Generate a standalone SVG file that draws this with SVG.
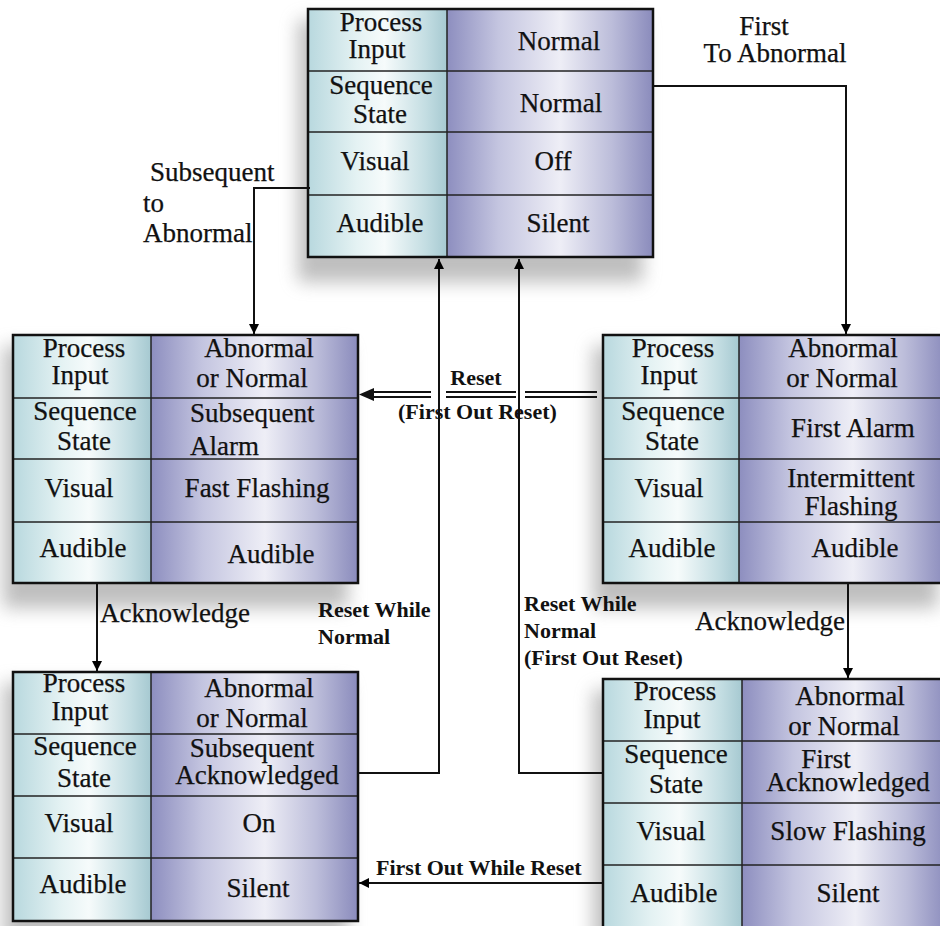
<svg xmlns="http://www.w3.org/2000/svg" width="940" height="926" viewBox="0 0 940 926">
<defs>
<linearGradient id="gl" x1="0" y1="0" x2="1" y2="0">
<stop offset="0" stop-color="#b8d8de"/>
<stop offset="0.35" stop-color="#e4f2f3"/>
<stop offset="0.55" stop-color="#f6fbfb"/>
<stop offset="0.85" stop-color="#c3dde2"/>
<stop offset="1" stop-color="#a6c9d1"/>
</linearGradient>
<linearGradient id="gr" x1="0" y1="0" x2="1" y2="0">
<stop offset="0" stop-color="#8d8ebf"/>
<stop offset="0.25" stop-color="#c4c5e0"/>
<stop offset="0.55" stop-color="#eeeef6"/>
<stop offset="0.8" stop-color="#bcbdda"/>
<stop offset="1" stop-color="#8a8bbc"/>
</linearGradient>
<filter id="sh" x="-20%" y="-20%" width="140%" height="140%">
<feGaussianBlur stdDeviation="9"/>
</filter>
<marker id="ah" viewBox="0 0 10 10" refX="10" refY="5" markerWidth="10" markerHeight="12" markerUnits="userSpaceOnUse" orient="auto">
<path d="M0,0 L10,5 L0,10 z" fill="#000"/>
</marker>
</defs>
<style>
.shadow{fill:#8a8a8a;opacity:0.55;filter:url(#sh)}
.frame{fill:none;stroke:#111;stroke-width:2.5}
.grid{stroke:#222;stroke-width:1.5}
.t{font-family:"Liberation Serif","Times New Roman","DejaVu Serif",serif;font-weight:400;font-size:27px;fill:#111;stroke:#111;stroke-width:0.25}
.c{text-anchor:middle}
.lb{font-family:"Liberation Serif","Times New Roman","DejaVu Serif",serif;font-size:22px;font-weight:700;fill:#111}
.wire{fill:none;stroke:#111;stroke-width:2}
</style>
<rect width="940" height="926" fill="#fff"/>

<g id="node-normal">
<rect class="shadow" x="298" y="20" width="345" height="262"/>
<rect x="308" y="9" width="139" height="248" fill="url(#gl)"/>
<rect x="447" y="9" width="206" height="248" fill="url(#gr)"/>
<line class="grid" x1="308" y1="71" x2="653" y2="71"/>
<line class="grid" x1="308" y1="132" x2="653" y2="132"/>
<line class="grid" x1="308" y1="195" x2="653" y2="195"/>
<line class="grid" x1="447" y1="9" x2="447" y2="257"/>
<rect class="frame" x="308" y="9" width="345" height="248"/>
<text class="t c" x="381" y="31">Process</text>
<text class="t c" x="377" y="58">Input</text>
<text class="t c" x="559" y="50">Normal</text>
<text class="t c" x="381" y="94">Sequence</text>
<text class="t c" x="380" y="123">State</text>
<text class="t c" x="561" y="112">Normal</text>
<text class="t c" x="375" y="170">Visual</text>
<text class="t c" x="553" y="170">Off</text>
<text class="t c" x="380" y="232">Audible</text>
<text class="t c" x="558" y="232">Silent</text>
</g>

<g id="node-subsequent-alarm">
<rect class="shadow" x="3" y="346" width="345" height="262"/>
<rect x="13" y="335" width="138" height="248" fill="url(#gl)"/>
<rect x="151" y="335" width="207" height="248" fill="url(#gr)"/>
<line class="grid" x1="13" y1="398" x2="358" y2="398"/>
<line class="grid" x1="13" y1="459" x2="358" y2="459"/>
<line class="grid" x1="13" y1="522" x2="358" y2="522"/>
<line class="grid" x1="151" y1="335" x2="151" y2="583"/>
<rect class="frame" x="13" y="335" width="345" height="248"/>
<text class="t c" x="84" y="357">Process</text>
<text class="t c" x="80" y="384">Input</text>
<text class="t c" x="259" y="357">Abnormal</text>
<text class="t c" x="252" y="387">or Normal</text>
<text class="t c" x="85" y="420">Sequence</text>
<text class="t c" x="84" y="450">State</text>
<text class="t" x="190" y="422">Subsequent</text>
<text class="t" x="190" y="455">Alarm</text>
<text class="t c" x="79" y="497">Visual</text>
<text class="t c" x="257" y="497">Fast Flashing</text>
<text class="t c" x="83" y="557">Audible</text>
<text class="t c" x="271" y="563">Audible</text>
</g>

<g id="node-first-alarm">
<rect class="shadow" x="593" y="346" width="345" height="262"/>
<rect x="603" y="335" width="136" height="248" fill="url(#gl)"/>
<rect x="739" y="335" width="207" height="248" fill="url(#gr)"/>
<line class="grid" x1="603" y1="398" x2="946" y2="398"/>
<line class="grid" x1="603" y1="459" x2="946" y2="459"/>
<line class="grid" x1="603" y1="522" x2="946" y2="522"/>
<line class="grid" x1="739" y1="335" x2="739" y2="583"/>
<rect class="frame" x="603" y="335" width="343" height="248"/>
<text class="t c" x="673" y="357">Process</text>
<text class="t c" x="669" y="384">Input</text>
<text class="t c" x="843" y="357">Abnormal</text>
<text class="t c" x="842" y="387">or Normal</text>
<text class="t c" x="673" y="420">Sequence</text>
<text class="t c" x="672" y="450">State</text>
<text class="t c" x="853" y="437">First Alarm</text>
<text class="t c" x="669" y="497">Visual</text>
<text class="t c" x="851" y="487">Intermittent</text>
<text class="t c" x="851" y="515">Flashing</text>
<text class="t c" x="672" y="557">Audible</text>
<text class="t c" x="855" y="557">Audible</text>
</g>

<g id="node-subsequent-acknowledged">
<rect class="shadow" x="3" y="683" width="345" height="262"/>
<rect x="13" y="672" width="138" height="249" fill="url(#gl)"/>
<rect x="151" y="672" width="207" height="249" fill="url(#gr)"/>
<line class="grid" x1="13" y1="734" x2="358" y2="734"/>
<line class="grid" x1="13" y1="796" x2="358" y2="796"/>
<line class="grid" x1="13" y1="858" x2="358" y2="858"/>
<line class="grid" x1="151" y1="672" x2="151" y2="921"/>
<rect class="frame" x="13" y="672" width="345" height="249"/>
<text class="t c" x="84" y="692">Process</text>
<text class="t c" x="80" y="720">Input</text>
<text class="t c" x="259" y="697">Abnormal</text>
<text class="t c" x="252" y="727">or Normal</text>
<text class="t c" x="85" y="755">Sequence</text>
<text class="t c" x="84" y="787">State</text>
<text class="t c" x="252" y="757">Subsequent</text>
<text class="t c" x="257" y="784">Acknowledged</text>
<text class="t c" x="79" y="832">Visual</text>
<text class="t c" x="259" y="832">On</text>
<text class="t c" x="83" y="893">Audible</text>
<text class="t c" x="258" y="897">Silent</text>
</g>

<g id="node-first-acknowledged">
<rect class="shadow" x="593" y="690" width="345" height="262"/>
<rect x="603" y="679" width="139" height="260" fill="url(#gl)"/>
<rect x="742" y="679" width="206" height="260" fill="url(#gr)"/>
<line class="grid" x1="603" y1="741" x2="948" y2="741"/>
<line class="grid" x1="603" y1="803" x2="948" y2="803"/>
<line class="grid" x1="603" y1="865" x2="948" y2="865"/>
<line class="grid" x1="742" y1="679" x2="742" y2="939"/>
<rect class="frame" x="603" y="679" width="345" height="260"/>
<text class="t c" x="675" y="700">Process</text>
<text class="t c" x="672" y="728">Input</text>
<text class="t c" x="850" y="705">Abnormal</text>
<text class="t c" x="844" y="735">or Normal</text>
<text class="t c" x="676" y="763">Sequence</text>
<text class="t c" x="676" y="793">State</text>
<text class="t c" x="826" y="768">First</text>
<text class="t c" x="848" y="791">Acknowledged</text>
<text class="t c" x="671" y="840">Visual</text>
<text class="t c" x="848" y="840">Slow Flashing</text>
<text class="t c" x="674" y="902">Audible</text>
<text class="t c" x="848" y="902">Silent</text>
</g>

<g id="connectors">
<path class="wire" d="M310,188 H254 V334" marker-end="url(#ah)"/>
<path class="wire" d="M653,86 H846 V334" marker-end="url(#ah)"/>
<path class="wire" d="M358,773 H439 V259" marker-end="url(#ah)"/>
<path class="wire" d="M603,773 H519 V259" marker-end="url(#ah)"/>
<path class="wire" d="M97,583 V671" marker-end="url(#ah)"/>
<path class="wire" d="M848,583 V678" marker-end="url(#ah)"/>
<path class="wire" d="M603,883 H359" marker-end="url(#ah)"/>
<g stroke="#111" stroke-width="2" fill="none">
<path d="M370,392 H431 M370,397 H431"/>
<path d="M446,392 H516 M446,397 H516"/>
<path d="M525,392 H597 M525,397 H597"/>
</g>
<path d="M359,394.5 L374,388 L374,401 z" fill="#111"/>
<text class="t" x="150" y="181">Subsequent</text>
<text class="t" x="143" y="212">to</text>
<text class="t" x="143" y="242">Abnormal</text>
<text class="t c" x="764" y="35">First</text>
<text class="t c" x="775" y="62">To Abnormal</text>
<text class="lb c" x="476" y="385">Reset</text>
<text class="lb" x="398" y="419">(First Out Reset)</text>
<text class="lb" x="318" y="617">Reset While</text>
<text class="lb" x="318" y="644">Normal</text>
<text class="lb" x="524" y="611">Reset While</text>
<text class="lb" x="524" y="638">Normal</text>
<text class="lb" x="524" y="665">(First Out Reset)</text>
<text class="t" x="100" y="622">Acknowledge</text>
<text class="t" x="695" y="630">Acknowledge</text>
<text class="lb" x="376" y="875">First Out While Reset</text>
</g>
</svg>
